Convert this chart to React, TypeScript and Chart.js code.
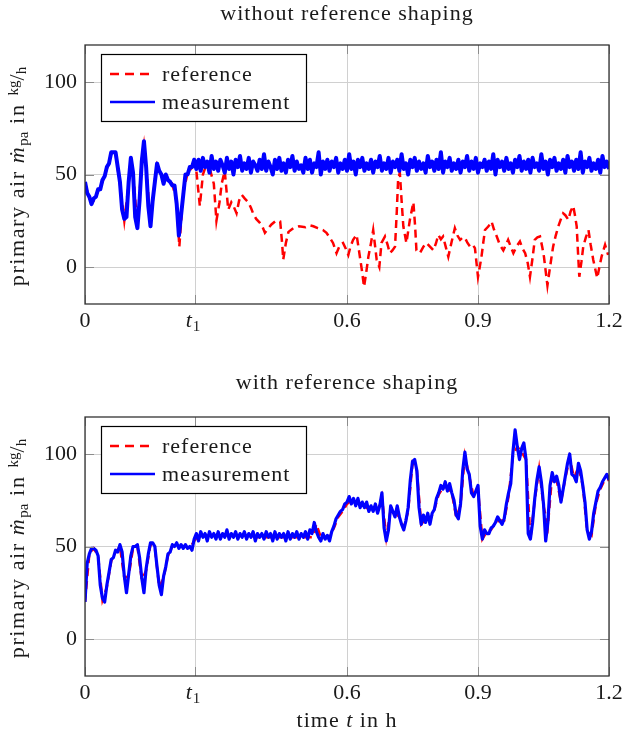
import React, { useEffect, useRef } from "react";
import { Chart, registerables } from "chart.js";
Chart.register(...registerables);

// ---------- data ----------
const T_MAX = 1.2;
const T1 = 0.252;
const SAMPLE_STEP = 0.005; // measurement sampling interval (h)
const REF_STEP = 0.01; // shaped reference sampling interval (h)
const X_TICKS = [0, T1, 0.6, 0.9, 1.2];
const X_TICK_LABELS = ["0", "t1", "0.6", "0.9", "1.2"];
const Y_TICKS = [0, 50, 100];
const Y_TICK_LABELS = ["0", "50", "100"];
const Y_MIN = -20;
const Y_MAX = 120;

const TITLE_TOP = "without reference shaping";
const TITLE_BOTTOM = "with reference shaping";
const LEGEND_LABELS = ["reference", "measurement"];

// top panel: measurement (every 0.005 h)
const MEAS_TOP = [
  46, 40, 38, 34, 37, 38, 42, 42, 47, 49,
  54, 56, 62, 62, 62, 54, 46, 31, 26, 27,
  46, 59, 51, 27, 21, 36, 57, 68, 54, 33,
  22, 36, 46, 56, 52, 50, 45, 50, 47, 46,
  44, 44, 34, 17, 28, 39, 50, 50, 54, 54,
  58,
  53, 58, 52, 59, 54, 57, 51, 60, 53, 57,
  52, 58, 55, 51, 59, 53, 57, 50, 58, 54,
  60, 52, 56, 53, 59, 51, 57, 55, 52, 58,
  53, 61, 52, 57, 54, 50, 58, 53, 59, 52,
  56, 51, 58, 54, 60, 52, 57, 53, 55, 51,
  59, 53, 58, 51, 56, 54, 62, 50, 57, 53,
  58, 52, 57, 54, 59, 51, 56, 53, 58, 52,
  61, 53, 57, 50, 58, 54, 59, 52, 56, 53,
  58, 51, 57, 54, 60, 52, 56, 53, 59, 51,
  57, 54, 58, 52, 61, 53, 56, 50, 58, 54,
  59, 52, 57, 53, 56, 51, 60, 54, 57, 52,
  58, 53, 62, 51, 57, 54, 59, 52, 56, 53,
  58, 51, 57, 54, 60, 52, 57, 53, 59, 51,
  56, 54, 58, 52, 57, 53, 61, 50, 58, 54,
  57, 52, 59, 53, 56, 51, 58, 54, 60, 52,
  57, 53, 58, 51, 59, 54, 56, 52, 61, 53,
  57, 50, 58, 54, 59, 52, 56, 53, 58, 51,
  60, 54, 57, 52, 58, 53, 62, 51, 57, 54,
  59, 52, 56, 53, 58, 51, 60, 54, 57, 53,
];

// top panel: unshaped reference, [time h, value kg/h]
const REF_TOP_POINTS: [number, number][] = [
  [0, 45], [0.01, 37], [0.02, 36], [0.03, 41], [0.04, 46], [0.05, 53], [0.06, 61], [0.065, 63],
  [0.07, 61], [0.08, 45], [0.09, 25], [0.1, 45], [0.105, 58], [0.11, 52], [0.12, 22], [0.13, 58],
  [0.135, 66], [0.14, 55], [0.15, 23], [0.16, 47], [0.165, 55], [0.175, 49], [0.185, 49], [0.2, 45],
  [0.21, 35], [0.216, 11], [0.225, 40], [0.235, 51], [0.25, 55], [0.255, 52], [0.263, 33], [0.27, 50],
  [0.276, 54], [0.287, 52], [0.295, 45], [0.301, 25], [0.308, 35], [0.313, 45], [0.32, 52], [0.328, 31],
  [0.335, 35], [0.34, 33], [0.347, 29], [0.353, 36], [0.359, 39], [0.366, 37], [0.374, 35], [0.38, 32],
  [0.385, 29], [0.392, 26], [0.4, 24], [0.406, 22], [0.412, 18.5], [0.42, 21], [0.427, 23], [0.437, 25],
  [0.447, 24.6], [0.451, 14], [0.454, 4], [0.46, 13], [0.466, 19], [0.477, 21], [0.49, 22], [0.505, 21.5],
  [0.515, 22.5], [0.523, 22], [0.533, 21], [0.545, 20], [0.553, 18.5], [0.56, 16], [0.568, 13], [0.576, 7.5],
  [0.584, 12], [0.591, 13], [0.597, 10], [0.603, 6.5], [0.608, 11], [0.614, 14.7], [0.622, 17.4], [0.628, 8],
  [0.634, -1.6], [0.639, -10.7], [0.644, -3], [0.649, 5.6], [0.655, 13], [0.66, 20], [0.664, 12], [0.668, 3.8],
  [0.674, 0], [0.679, 13], [0.687, 16.5], [0.693, 12], [0.698, 7.5], [0.704, 9], [0.71, 11], [0.714, 30],
  [0.717, 47], [0.721, 51], [0.725, 36], [0.729, 22], [0.736, 13], [0.744, 25.5], [0.752, 35], [0.756, 22],
  [0.759, 9], [0.767, 7.5], [0.775, 11], [0.782, 13], [0.79, 11], [0.798, 9], [0.804, 13], [0.809, 17.4],
  [0.815, 15], [0.82, 16.5], [0.826, 11], [0.832, 5.6], [0.84, 14], [0.847, 21], [0.853, 17], [0.859, 14.7],
  [0.865, 16], [0.87, 15.8], [0.876, 13], [0.882, 11], [0.888, 12], [0.893, 10.2], [0.9, -5.3], [0.904, 0],
  [0.908, 5.6], [0.912, 13], [0.916, 20], [0.924, 22], [0.931, 24.6], [0.937, 20], [0.943, 16.5], [0.95, 12],
  [0.958, 9], [0.964, 12], [0.969, 14.7], [0.975, 11], [0.981, 7.5], [0.988, 11], [0.996, 13.8], [1.002, 10],
  [1.008, 7.5], [1.014, 2], [1.019, -5.3], [1.025, 5], [1.03, 14.7], [1.036, 16], [1.042, 16.5], [1.047, 11],
  [1.051, 5.6], [1.059, -10], [1.065, 0], [1.072, 11], [1.078, 17], [1.084, 22], [1.09, 26], [1.095, 29],
  [1.1, 28], [1.107, 25.5], [1.112, 30], [1.118, 33], [1.122, 28], [1.126, 22], [1.129, 8], [1.132, -5.3],
  [1.137, 3], [1.141, 11], [1.147, 16], [1.153, 20], [1.158, 12], [1.164, 3.8], [1.173, -6], [1.178, 0],
  [1.183, 5.6], [1.191, 12], [1.198, 6.5],
];

// bottom panel: measurement (every 0.005 h)
const MEAS_BOTTOM = [
  20, 41, 46, 49, 49, 48, 45, 29, 22, 20,
  29, 36, 43, 44, 48, 47, 51, 47, 34, 25,
  35, 45, 50, 50, 51, 44, 33, 25, 38, 46,
  52, 52, 50, 39, 29, 24, 34, 39, 46, 47,
  51, 50, 52, 49, 51, 49, 51, 49, 50, 48,
  54,
  57, 53, 58, 55, 57, 53, 58, 55, 57, 54,
  58, 54, 57, 55, 59, 54, 57, 55, 58, 54,
  57, 55, 58, 54, 57, 55, 58, 53, 57, 55,
  57, 54, 58, 55, 57, 53, 58, 54, 57, 55,
  57, 53, 58, 54, 57, 55, 58, 54, 57, 55,
  58, 54, 59, 57, 63, 58, 55, 53, 57, 54,
  56, 53, 58, 61, 65, 67, 69, 70, 73, 74,
  77, 73, 76, 72, 76, 71, 74, 71, 74, 69,
  72, 69, 73, 68, 72, 79, 60, 53, 59, 72,
  69, 66, 72, 66, 62, 59, 64, 71, 86, 96,
  97, 91, 71, 62, 67, 63, 68, 62, 68, 70,
  76, 79, 83, 81, 85, 80, 84, 79, 75, 67,
  65, 73, 91, 101, 92, 89, 79, 77, 80, 83,
  61, 54, 59, 57, 57, 60, 61, 63, 66, 64,
  62, 65, 73, 79, 84, 101, 113, 104, 97, 103,
  106, 97, 57, 54, 63, 76, 86, 93, 85, 73,
  53, 63, 83, 90, 85, 88, 83, 74, 81, 88,
  95, 100, 89, 88, 85, 95, 91, 83, 74, 59,
  54, 58, 68, 74, 80, 82, 85, 87, 89, 86,
];

// bottom panel: shaped reference (every 0.01 h)
const REF_BOTTOM = [
  20, 46, 49, 45, 21, 28, 42, 47, 50, 33,
  34, 49, 50, 32, 37, 51, 49, 28, 33, 45,
  50, 51, 50, 50, 49, 53, 56, 56, 56, 56,
  56, 56, 56, 56, 56, 56, 56, 56, 56, 55,
  55, 55, 55, 55, 55, 55, 55, 55, 55, 55,
  55, 55, 55, 62, 55, 55, 55, 60, 66, 69,
  73, 75, 74, 73, 72, 70, 71, 69, 77, 55,
  70, 68, 66, 60, 69, 95, 91, 62, 65, 64,
  70, 78, 82, 82, 79, 66, 72, 99, 88, 77,
  81, 54, 58, 59, 63, 64, 64, 77, 99, 104,
  101, 97, 54, 75, 92, 72, 61, 89, 86, 74,
  87, 98, 87, 93, 83, 58, 56, 73, 81, 86,
  86,
];

// ---------- styling ----------
const SERIF = '"Liberation Serif", "DejaVu Serif", serif';
const TXT = "#1a1a1a";
const RED = "#ff0000";
const BLUE = "#0000ff";
const FS = 22;
const FS_SMALL = 15;

type Part = { text: string; italic?: boolean; small?: boolean; dy?: number; tight?: boolean; sp?: number };

function drawParts(ctx: CanvasRenderingContext2D, parts: Part[], x: number, y: number, align: "center" | "left") {
  const c: any = ctx;
  const fontOf = (p: Part) => `${p.italic ? "italic " : ""}${p.small ? FS_SMALL : FS}px ${SERIF}`;
  const spacingOf = (p: Part) => (p.tight || p.small ? "0px" : `${p.sp ?? 1}px`);
  let total = 0;
  const widths = parts.map((p) => {
    ctx.font = fontOf(p);
    c.letterSpacing = spacingOf(p);
    const w = ctx.measureText(p.text).width;
    total += w;
    return w;
  });
  let cx = align === "center" ? x - total / 2 : x;
  ctx.textAlign = "left";
  ctx.textBaseline = "alphabetic";
  ctx.fillStyle = TXT;
  parts.forEach((p, i) => {
    ctx.font = fontOf(p);
    c.letterSpacing = spacingOf(p);
    ctx.fillText(p.text, cx, y + (p.dy || 0));
    cx += widths[i];
  });
  c.letterSpacing = "0px";
}

const decorPlugin = {
  id: "decor",
  afterDraw(chart: any, _args: any, opts: any) {
    const { ctx, chartArea: a, scales } = chart;
    const xs = scales.x;
    const ys = scales.y;
    ctx.save();

    // inner tick marks
    ctx.strokeStyle = "#8c8c8c";
    ctx.lineWidth = 1;
    ctx.beginPath();
    for (const v of X_TICKS) {
      const px = Math.round(xs.getPixelForValue(v)) + 0.5;
      ctx.moveTo(px, a.top);
      ctx.lineTo(px, a.top + 9);
      ctx.moveTo(px, a.bottom);
      ctx.lineTo(px, a.bottom - 9);
    }
    for (const v of Y_TICKS) {
      const py = Math.round(ys.getPixelForValue(v)) + 0.5;
      ctx.moveTo(a.left, py);
      ctx.lineTo(a.left + 9, py);
      ctx.moveTo(a.right, py);
      ctx.lineTo(a.right - 9, py);
    }
    ctx.stroke();

    // frame
    ctx.strokeStyle = "#333";
    ctx.lineWidth = 1.3;
    ctx.strokeRect(a.left, a.top, a.right - a.left, a.bottom - a.top);

    // legend
    const lx = a.left + 16;
    const ly = a.top + 9;
    ctx.fillStyle = "#fff";
    ctx.fillRect(lx, ly, 205, 67);
    ctx.strokeStyle = "#000";
    ctx.lineWidth = 1.2;
    ctx.strokeRect(lx + 0.5, ly + 0.5, 205, 67);
    const rows = [ly + 20, ly + 48];
    ctx.lineWidth = 2.5;
    ctx.strokeStyle = RED;
    ctx.setLineDash([9, 6]);
    ctx.beginPath();
    ctx.moveTo(lx + 9, rows[0]);
    ctx.lineTo(lx + 54, rows[0]);
    ctx.stroke();
    ctx.setLineDash([]);
    ctx.strokeStyle = BLUE;
    ctx.beginPath();
    ctx.moveTo(lx + 9, rows[1]);
    ctx.lineTo(lx + 54, rows[1]);
    ctx.stroke();
    drawParts(ctx, [{ text: LEGEND_LABELS[0] }], lx + 61, rows[0] + 7, "left");
    drawParts(ctx, [{ text: LEGEND_LABELS[1] }], lx + 61, rows[1] + 7, "left");

    // x tick labels
    X_TICKS.forEach((v, i) => {
      const px = xs.getPixelForValue(v);
      const lab = X_TICK_LABELS[i];
      if (lab === "t1") {
        drawParts(ctx, [{ text: "t", italic: true }, { text: "1", small: true, dy: 4 }], px - 2, a.bottom + 23, "center");
      } else {
        drawParts(ctx, [{ text: lab, tight: true }], px, a.bottom + 23, "center");
      }
    });

    // title
    drawParts(ctx, [{ text: opts.title }], (a.left + a.right) / 2, opts.titleY, "center");

    // y axis title
    ctx.save();
    ctx.translate(18, (a.top + a.bottom) / 2 + 2);
    ctx.rotate(-Math.PI / 2);
    drawParts(
      ctx,
      [
        { text: "primary air ", sp: 1.6 },
        { text: "ṁ", italic: true, sp: 1.6 },
        { text: "pa", small: true, dy: 4 },
        { text: " in ", sp: 2 },
        { text: "kg", small: true, dy: -6 },
        { text: "/", tight: true },
        { text: "h", small: true, dy: 2 },
      ],
      0,
      6,
      "center"
    );
    ctx.restore();

    // x axis title
    if (opts.xTitle) {
      drawParts(
        ctx,
        [{ text: "time " }, { text: "t", italic: true }, { text: " in h" }],
        (a.left + a.right) / 2,
        opts.xTitleY,
        "center"
      );
    }
    ctx.restore();
  },
};

function makeConfig(
  meas: number[],
  ref: { x: number; y: number }[],
  measWidth: number,
  padTop: number,
  padBottom: number,
  decor: any
): any {
  return {
    type: "line",
    data: {
      datasets: [
        {
          label: LEGEND_LABELS[0],
          data: ref,
          borderColor: RED,
          borderWidth: 2.5,
          borderDash: [8, 5],
          pointRadius: 0,
          tension: 0,
          fill: false,
          order: 1,
        },
        {
          label: LEGEND_LABELS[1],
          data: meas.map((v, i) => ({ x: i * SAMPLE_STEP, y: v })),
          borderColor: BLUE,
          borderWidth: measWidth,
          borderJoinStyle: "round",
          pointRadius: 0,
          tension: 0,
          fill: false,
          order: 0,
        },
      ],
    },
    options: {
      responsive: false,
      maintainAspectRatio: false,
      animation: false,
      devicePixelRatio: 1,
      layout: { padding: { left: 0, right: 15, top: padTop, bottom: padBottom } },
      plugins: {
        legend: { display: false },
        tooltip: { enabled: false },
        title: { display: false },
        decor,
      },
      scales: {
        x: {
          type: "linear",
          min: 0,
          max: T_MAX,
          afterBuildTicks: (s: any) => {
            s.ticks = X_TICKS.map((v) => ({ value: v }));
          },
          afterFit: (s: any) => {
            s.height = 30;
            s.paddingLeft = 0;
            s.paddingRight = 0;
          },
          ticks: { display: false, autoSkip: false },
          grid: { color: "#d0d0d0", lineWidth: 1, drawTicks: false, tickLength: 0 },
          border: { display: false },
        },
        y: {
          type: "linear",
          min: Y_MIN,
          max: Y_MAX,
          afterBuildTicks: (s: any) => {
            s.ticks = Y_TICKS.map((v) => ({ value: v }));
          },
          afterFit: (s: any) => {
            s.width = 85;
            s.paddingTop = 0;
            s.paddingBottom = 0;
          },
          ticks: {
            autoSkip: false,
            padding: 8,
            color: TXT,
            font: { family: SERIF, size: FS },
            callback: (_v: any, i: number) => Y_TICK_LABELS[i],
          },
          grid: { color: "#d0d0d0", lineWidth: 1, drawTicks: false, tickLength: 0 },
          border: { display: false },
        },
      },
    },
    plugins: [decorPlugin],
  };
}

export default function App() {
  const topRef = useRef<HTMLCanvasElement>(null);
  const botRef = useRef<HTMLCanvasElement>(null);

  useEffect(() => {
    const refTop = REF_TOP_POINTS.map(([t, v]) => ({ x: t, y: v }));
    const refBottom = REF_BOTTOM.map((v, i) => ({ x: i * REF_STEP, y: v }));
    const c1 = new Chart(
      topRef.current as HTMLCanvasElement,
      makeConfig(MEAS_TOP, refTop, 4, 45, 34, { title: TITLE_TOP, titleY: 20, xTitle: false })
    );
    const c2 = new Chart(
      botRef.current as HTMLCanvasElement,
      makeConfig(MEAS_BOTTOM, refBottom, 3.2, 49, 30, {
        title: TITLE_BOTTOM,
        titleY: 21,
        xTitle: true,
        xTitleY: 359,
      })
    );
    return () => {
      c1.destroy();
      c2.destroy();
    };
  }, []);

  return (
    <div style={{ position: "absolute", left: 0, top: 0, width: 624, height: 736, background: "#fff" }}>
      <canvas
        ref={topRef}
        width={624}
        height={368}
        style={{ position: "absolute", left: 0, top: 0, width: 624, height: 368 }}
      />
      <canvas
        ref={botRef}
        width={624}
        height={368}
        style={{ position: "absolute", left: 0, top: 368, width: 624, height: 368 }}
      />
    </div>
  );
}
